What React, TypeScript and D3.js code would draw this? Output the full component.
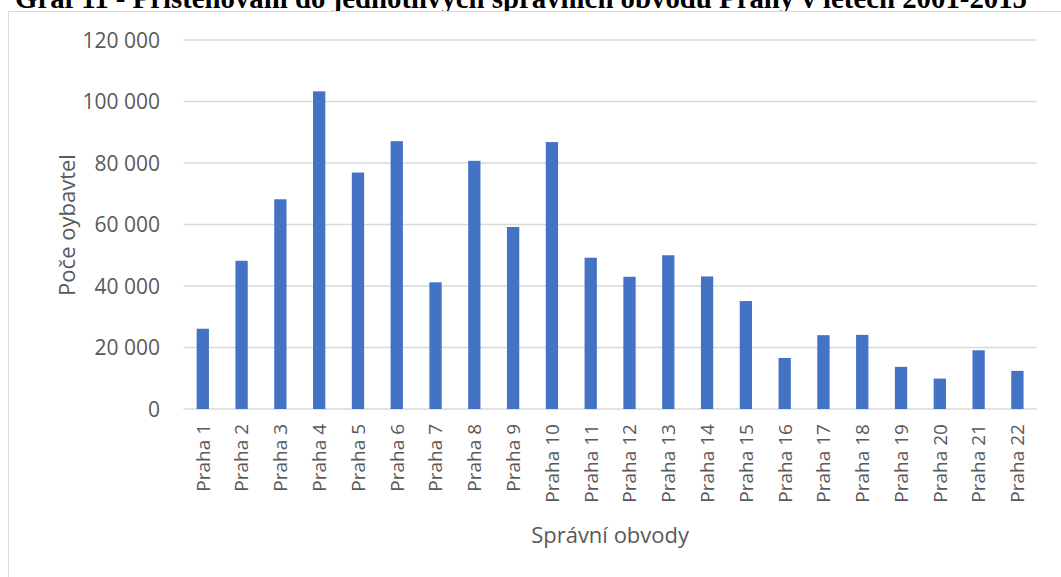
import React from "react";
import * as d3 from "d3";

const categories = [
  "Praha 1", "Praha 2", "Praha 3", "Praha 4", "Praha 5", "Praha 6", "Praha 7", "Praha 8",
  "Praha 9", "Praha 10", "Praha 11", "Praha 12", "Praha 13", "Praha 14", "Praha 15",
  "Praha 16", "Praha 17", "Praha 18", "Praha 19", "Praha 20", "Praha 21", "Praha 22",
];
const values = [
  26100, 48200, 68200, 103300, 76900, 87100, 41200, 80700, 59200, 86800, 49200,
  43000, 50000, 43100, 35100, 16600, 24000, 24100, 13700, 9900, 19100, 12400,
];
const yTicks = [0, 20000, 40000, 60000, 80000, 100000, 120000];
const title = "Graf 11 - Přistěhování do jednotlivých správních obvodů Prahy v letech 2001-2015";
const xTitle = "Správní obvody";
const yTitle = "Poče oybavtel";

const W = 1061;
const H = 577;
const plotLeft = 183.4;
const plotRight = 1036.8;
const plotTop = 40;
const plotBottom = 409;
const textColor = "#595959";
const font = "'Open Sans', sans-serif";

export default function App() {
  const x = d3
    .scaleBand<string>()
    .domain(categories)
    .range([plotLeft, plotRight])
    .paddingInner(0.683)
    .paddingOuter(0.3415);
  const y = d3.scaleLinear().domain([0, 120000]).range([plotBottom, plotTop]);
  const fmt = (v: number) => d3.format(",")(v).replace(/,/g, " ");

  return (
    <svg
      width={W}
      height={H}
      style={{ position: "absolute", left: 0, top: 0, background: "#fff" }}
    >
      <rect x={0} y={0} width={W} height={H} fill="#fff" />
      <text
        x={15}
        y={7.5}
        fontFamily="'Liberation Serif', 'Times New Roman', serif"
        fontWeight="bold"
        fontSize={28.7}
        textLength={1012}
        lengthAdjust="spacingAndGlyphs"
        fill="#000"
      >
        {title}
      </text>
      <rect
        x={8.5}
        y={11.5}
        width={W + 20}
        height={H + 20}
        fill="#fff"
        stroke="#d9d9d9"
        strokeWidth={1}
      />
      {yTicks.map((t) => (
        <g key={t}>
          <line
            x1={plotLeft}
            x2={plotRight}
            y1={y(t)}
            y2={y(t)}
            stroke="#d9d9d9"
            strokeWidth={1.3}
          />
          <text
            x={160}
            y={y(t)}
            dy="0.36em"
            textAnchor="end"
            fontFamily={font}
            fontSize={21}
            fill={textColor}
          >
            {fmt(t)}
          </text>
        </g>
      ))}
      {categories.map((c, i) => (
        <rect
          key={c}
          x={x(c)}
          y={y(values[i])}
          width={x.bandwidth()}
          height={y(0) - y(values[i])}
          fill="#4472C4"
        />
      ))}
      {categories.map((c) => (
        <text
          key={c}
          transform={`translate(${(x(c) as number) + x.bandwidth() / 2},424) rotate(-90)`}
          dy="0.36em"
          textAnchor="end"
          fontFamily={font}
          fontSize={19}
          fill={textColor}
        >
          {c}
        </text>
      ))}
      <text
        x={(plotLeft + plotRight) / 2}
        y={543}
        textAnchor="middle"
        fontFamily={font}
        fontSize={22}
        fill={textColor}
      >
        {xTitle}
      </text>
      <text
        transform={`translate(75,225) rotate(-90)`}
        textAnchor="middle"
        fontFamily={font}
        fontSize={22}
        fill={textColor}
      >
        {yTitle}
      </text>
    </svg>
  );
}
